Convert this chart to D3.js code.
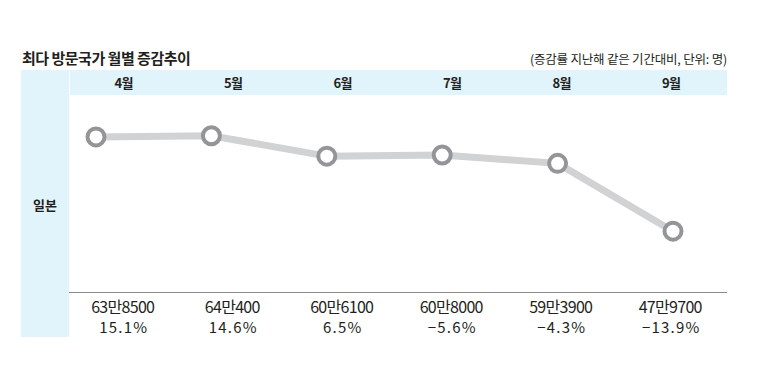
<!DOCTYPE html>
<html><head><meta charset="utf-8">
<script src="https://cdn.jsdelivr.net/npm/d3@7"></script>
<style>body{margin:0;background:#fff;} svg{display:block;}</style>
</head><body>
<svg id="c" width="763" height="367"></svg>
<script>
const title = "최다 방문국가 월별 증감추이";
const note = "(증감률 지난해 같은 기간대비, 단위: 명)";
const country = "일본";
const months = ["4월","5월","6월","7월","8월","9월"];
const visitors = [638500, 640400, 606100, 608000, 593900, 479700];
const visitorLabels = ["63만8500","64만400","60만6100","60만8000","59만3900","47만9700"];
const changeLabels = ["15.1%","14.6%","6.5%","\u22125.6%","\u22124.3%","\u221213.9%"];

const svg = d3.select("#c");
const blue = "#e1f4fc";
const font = "'Noto Sans CJK KR','Noto Sans',sans-serif";

svg.append("text").attr("x",22).attr("y",64).attr("font-family",font)
  .attr("font-size",15).attr("font-weight","bold").attr("fill","#231f20")
  .attr("letter-spacing","-0.5").text(title);
svg.append("text").attr("x",727).attr("y",64).attr("text-anchor","end").attr("font-family",font)
  .attr("font-size",12.5).attr("fill","#231f20").attr("letter-spacing","-0.2").text(note);

// panels
svg.append("rect").attr("x",21).attr("y",70).attr("width",48).attr("height",267).attr("fill",blue);
svg.append("rect").attr("x",70).attr("y",70).attr("width",657).attr("height",25).attr("fill",blue);
svg.append("text").attr("x",45).attr("y",210).attr("text-anchor","middle").attr("font-family",font)
  .attr("font-size",13).attr("font-weight","bold").attr("fill","#231f20").text(country);

const xb = d3.scaleBand().domain(months).range([70,727]);
const xp = d3.scalePoint().domain(months).range([96,673]);
const y = d3.scaleLinear().domain([480000,640000]).range([231,136]);

svg.append("g").selectAll("text").data(months).join("text")
  .attr("x",d=>xb(d)+xb.bandwidth()/2-1).attr("y",88).attr("text-anchor","middle")
  .attr("font-family",font).attr("font-size",13).attr("font-weight","bold").attr("fill","#231f20")
  .attr("letter-spacing","-0.5")
  .text(d=>d);

const pts = months.map((m,i)=>({m,v:visitors[i]}));
svg.append("path").datum(pts)
  .attr("d",d3.line().x(d=>xp(d.m)).y(d=>y(d.v)))
  .attr("fill","none").attr("stroke","#d1d2d4").attr("stroke-width",7).attr("stroke-linejoin","round");
svg.append("g").selectAll("circle").data(pts).join("circle")
  .attr("cx",d=>xp(d.m)).attr("cy",d=>y(d.v)).attr("r",8.5)
  .attr("fill","#fff").attr("stroke","#939598").attr("stroke-width",4);

svg.append("line").attr("x1",69).attr("x2",727).attr("y1",292.5).attr("y2",292.5)
  .attr("stroke","#8a8a8a").attr("stroke-width",1);

svg.append("g").selectAll("text").data(visitorLabels).join("text")
  .attr("x",(d,i)=>xb(months[i])+xb.bandwidth()/2-2).attr("y",313).attr("text-anchor","middle")
  .attr("font-family",font).attr("font-size",16).attr("fill","#231f20").attr("letter-spacing","-0.7")
  .text(d=>d);
svg.append("g").selectAll("text").data(changeLabels).join("text")
  .attr("x",(d,i)=>xb(months[i])+xb.bandwidth()/2-1).attr("y",333).attr("text-anchor","middle")
  .attr("font-family",font).attr("font-size",15).attr("fill","#231f20")
  .attr("letter-spacing","1.2")
  .text(d=>d);
</script>
</body></html>
